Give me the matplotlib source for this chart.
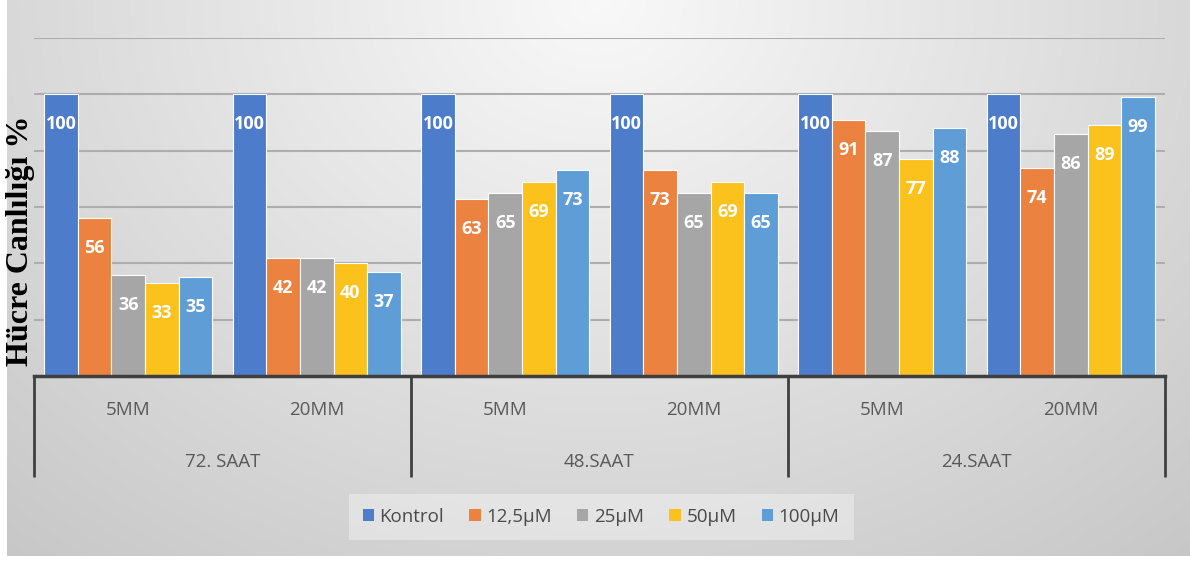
import numpy as np
import matplotlib.pyplot as plt
import matplotlib.transforms as mtransforms
from matplotlib.patches import Patch

plt.rcParams['font.family'] = ['Open Sans', 'DejaVu Sans']

# data
time_groups = ["72. SAAT", "48.SAAT", "24.SAAT"]
doses = ["5MM", "20MM"]
series_names = ["Kontrol", "12,5µM", "25µM", "50µM", "100µM"]
kontrol = [100, 100, 100, 100, 100, 100]
um_12_5 = [56, 42, 63, 73, 91, 74]
um_25 = [36, 42, 65, 65, 87, 86]
um_50 = [33, 40, 69, 69, 77, 89]
um_100 = [35, 37, 73, 65, 88, 99]

colors = ["#4d7cca", "#ec8240", "#a6a6a6", "#fbc11c", "#5f9dd6"]
all_series = [kontrol, um_12_5, um_25, um_50, um_100]

fig = plt.figure(figsize=(11.9, 5.61), dpi=100)

# radial grey background like the office chart
bg = fig.add_axes([7 / 1190, 5 / 561, 1183 / 1190, 556 / 561], zorder=-10)
yy, xx = np.mgrid[0:1:300j, 0:1:600j]
d = np.sqrt(((xx - 0.5) / 0.75) ** 2 + ((yy - 1.0) / 1.3) ** 2)
val = np.clip(0.975 - 0.19 * d, 0, 1)
bg.imshow(np.dstack([val, val, val]), origin='lower', aspect='auto', extent=[0, 1, 0, 1])
bg.axis('off')

ax = fig.add_axes([34 / 1190, 185 / 561, 1131 / 1190, 338 / 561])
ax.patch.set_alpha(0)

x = np.arange(len(doses) * len(time_groups))
w = 0.178
for i, (vals, c) in enumerate(zip(all_series, colors)):
    xs = x + (i - 2) * w
    ax.bar(xs, vals, w, color=c, edgecolor='white', linewidth=0.8, zorder=3)
    for xi, v in zip(xs, vals):
        ax.annotate(str(v), (xi, v), xytext=(0, -30), textcoords='offset pixels',
                    ha='center', va='center', color='white', fontweight='bold',
                    fontsize=13, zorder=4)

ax.set_xlim(-0.5, 5.5)
ax.set_ylim(0, 120)
ax.set_yticks(range(0, 121, 20))
ax.yaxis.grid(True, color='#adadad', lw=1.5)
ax.set_axisbelow(True)
ax.tick_params(left=False, labelleft=False, bottom=False, labelbottom=False)
for s in ['top', 'right', 'left']:
    ax.spines[s].set_visible(False)
ax.spines['bottom'].set_color('#3f3f3f')
ax.spines['bottom'].set_linewidth(2.5)
ax.spines['bottom'].set_zorder(5)

blend = mtransforms.blended_transform_factory(ax.transData, ax.transAxes)
for xi, lab in zip(x, doses * len(time_groups)):
    ax.text(xi, -0.1006, lab, transform=blend, ha='center', va='center',
            fontsize=13.5, color='#595959')
for gi, lab in enumerate(time_groups):
    ax.text(2 * gi + 0.5, -0.2544, lab, transform=blend, ha='center', va='center',
            fontsize=13.5, color='#595959')
for sx in [-0.5, 1.5, 3.5, 5.5]:
    ax.plot([sx, sx], [0, -0.299], transform=blend, color='#404040', lw=2,
            clip_on=False, solid_capstyle='butt')

fig.text(21 / 1190, 1 - 241 / 561, "Hücre Canlılığı %", rotation=90, ha='center',
         va='center', fontsize=23, fontweight='bold', family='Liberation Serif')

handles = [Patch(facecolor=c, edgecolor='none') for c in colors]
leg = fig.legend(handles, series_names, loc='center', bbox_to_anchor=(601 / 1190, 1 - 517 / 561),
                 ncol=5, frameon=True, facecolor='white', framealpha=0.35, edgecolor='none',
                 fancybox=False, fontsize=13.5, handlelength=0.6, handleheight=0.6,
                 handletextpad=0.3, columnspacing=1.35, borderpad=0.75, labelcolor='#4a4a4a')

fig.savefig('out.png', dpi=100)
